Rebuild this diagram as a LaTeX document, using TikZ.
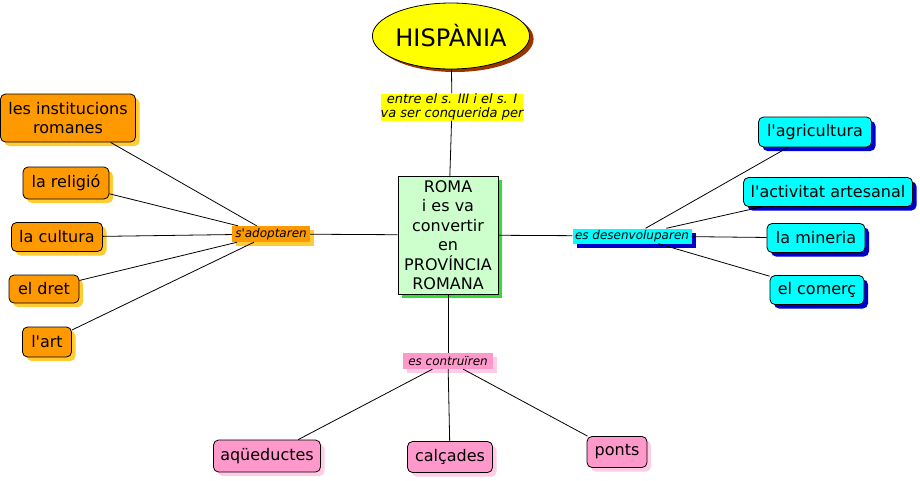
\documentclass[tikz,border=0pt]{standalone}
\usepackage{fontspec}
\setmainfont{DejaVu Sans}
\usetikzlibrary{shapes.geometric, shadows}
\definecolor{conOrange}{HTML}{FF9900}
\definecolor{shOrange}{HTML}{FFCC33}
\definecolor{conCyan}{HTML}{00FFFF}
\definecolor{shCyan}{HTML}{0000CC}
\definecolor{conPink}{HTML}{FF99CC}
\definecolor{shPink}{HTML}{FFCCE6}
\definecolor{conGreen}{HTML}{CCFFCC}
\definecolor{shGreen}{HTML}{33DD33}
\definecolor{hispYellow}{HTML}{FFFF00}
\definecolor{shBrown}{HTML}{993300}

\begin{document}
\begin{tikzpicture}[x=1pt, y=-1pt,
    concept/.style={draw=black, line width=0.8pt, rounded corners=5pt, align=center,
        inner sep=0pt, font=\fontsize{16}{19}\selectfont},
    orangeconcept/.style={concept, fill=conOrange,
        drop shadow={shadow xshift=4pt, shadow yshift=-4pt, fill=shOrange, opacity=1}},
    cyanconcept/.style={concept, fill=conCyan,
        drop shadow={shadow xshift=4pt, shadow yshift=-4pt, fill=shCyan, opacity=1}},
    pinkconcept/.style={concept, fill=conPink,
        drop shadow={shadow xshift=4pt, shadow yshift=-4pt, fill=shPink, opacity=1}},
    linkphrase/.style={inner sep=0pt, align=center, font=\itshape\fontsize{12}{14}\selectfont},
    edge/.style={line width=0.8pt}]
    \useasboundingbox (0,0) rectangle (920,480);

    % central part
    \node[ellipse, draw=black, line width=0.8pt, fill=hispYellow, minimum width=148pt, minimum height=66pt,
        inner sep=0pt, font=\fontsize{24}{28}\selectfont,
        drop shadow={shadow xshift=4pt, shadow yshift=-3pt, fill=shBrown, opacity=1}]
        (hisp) at (451,36) {HISPÀNIA};
    \node[linkphrase, fill=hispYellow, minimum width=138pt, minimum height=27pt,
        font=\itshape\fontsize{13}{14}\selectfont]
        (conq) at (452,107) {entre el s. III i el s. I\\va ser conquerida per};
    \node[draw=black, line width=0.8pt, fill=conGreen, minimum width=100pt, minimum height=118pt,
        align=center, inner sep=0pt, font=\fontsize{16}{19.5}\selectfont,
        drop shadow={shadow xshift=4pt, shadow yshift=-4pt, fill=shGreen, opacity=1}]
        (roma) at (448,235) {ROMA\\i es va\\convertir\\en\\PROVÍNCIA\\ROMANA};

    % left: s'adoptaren
    \node[linkphrase, fill=conOrange, minimum width=78pt, minimum height=16pt,
        drop shadow={shadow xshift=4pt, shadow yshift=-4pt, fill=shOrange, opacity=1}]
        (adopt) at (271,234) {s\textquotesingle adoptaren};
    \node[orangeconcept, minimum width=135pt, minimum height=48pt] (inst) at (68,118) {les institucions\\romanes};
    \node[orangeconcept, minimum width=86pt, minimum height=32pt] (relig) at (66,183) {la religió};
    \node[orangeconcept, minimum width=91pt, minimum height=29pt] (cult) at (57,237) {la cultura};
    \node[orangeconcept, minimum width=70pt, minimum height=28pt] (dret) at (44,289) {el dret};
    \node[orangeconcept, minimum width=49pt, minimum height=30pt] (art) at (47,342) {l\textquotesingle art};

    % right: es desenvoluparen
    \node[linkphrase, fill=conCyan, minimum width=119pt, minimum height=15pt,
        drop shadow={shadow xshift=4pt, shadow yshift=-4pt, fill=shCyan, opacity=1}]
        (desenv) at (632,236) {es desenvoluparen};
    \node[cyanconcept, minimum width=113pt, minimum height=30pt] (agri) at (815,132) {l\textquotesingle agricultura};
    \node[cyanconcept, minimum width=169pt, minimum height=29pt] (artes) at (828,192) {l\textquotesingle activitat artesanal};
    \node[cyanconcept, minimum width=98pt, minimum height=29pt] (miner) at (816,238) {la mineria};
    \node[cyanconcept, minimum width=94pt, minimum height=29pt] (comerc) at (817,290) {el comerç};

    % bottom: es contruïren
    \node[linkphrase, fill=conPink, minimum width=90pt, minimum height=16pt,
        drop shadow={shadow xshift=4pt, shadow yshift=-4pt, fill=shPink, opacity=1}]
        (constr) at (448,361) {es contruïren};
    \node[pinkconcept, minimum width=107pt, minimum height=32pt] (aque) at (267,456) {aqüeductes};
    \node[pinkconcept, minimum width=85pt, minimum height=31pt] (calc) at (450,457) {calçades};
    \node[pinkconcept, minimum width=60pt, minimum height=31pt] (ponts) at (617,452) {ponts};

    % connectors
    \draw[edge] (hisp) -- (conq);
    \draw[edge] (conq) -- (roma);
    \draw[edge] (roma) -- (adopt);
    \draw[edge] (roma) -- (desenv);
    \draw[edge] (roma) -- (constr);
    \foreach \c in {inst, relig, cult, dret, art}
        \draw[edge] (adopt) -- (\c);
    \foreach \c in {agri, artes, miner, comerc}
        \draw[edge] (desenv) -- (\c);
    \foreach \c in {aque, calc, ponts}
        \draw[edge] (constr) -- (\c);
\end{tikzpicture}
\end{document}
